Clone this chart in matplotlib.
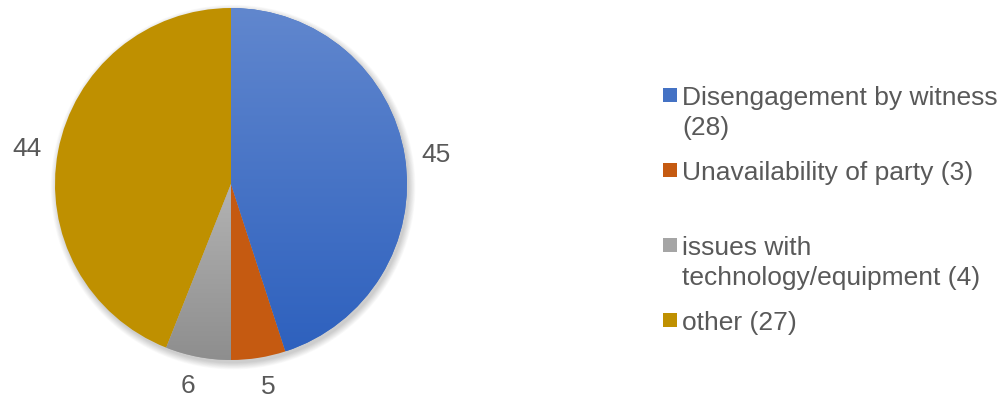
import numpy as np
import matplotlib
matplotlib.use("Agg")
import matplotlib.pyplot as plt
from matplotlib.patches import Rectangle, Circle
from matplotlib.colors import to_rgb

# Share of sessions by reason (percent) and the underlying counts
reasons = ["Disengagement by witness", "Unavailability of party",
           "issues with\ntechnology/equipment", "other"]
percent = [45, 5, 6, 44]
counts = [28, 3, 4, 27]

fill_top = ["#6187CE", "#C55A11", "#B3B3B3", "#BF9000"]
fill_bottom = ["#2E61BE", "#C55A11", "#8E8E8E", "#BF9000"]
legend_colors = ["#4472C4", "#C55A11", "#A5A5A5", "#BF9000"]
text_color = "#595959"

plt.rcParams["font.family"] = ["Liberation Sans", "DejaVu Sans"]

W, H = 1008, 398
fig = plt.figure(figsize=(W / 100, H / 100), dpi=100)

# pie geometry in pixels
cx, cy, rad = 231, 184, 176
ax = fig.add_axes([0, 0, 2 * cx / W, 1])

# soft drop shadow behind the pie
for i in range(10):
    ax.add_patch(Circle((0.012, -0.018), 1.0 + 0.004 * i, facecolor="black",
                        edgecolor="none", alpha=0.018, zorder=0))

wedges, _ = ax.pie(percent, startangle=90, counterclock=False, radius=1,
                   colors=legend_colors,
                   wedgeprops=dict(linewidth=0, zorder=1))

# value labels just outside each wedge, pushed away from the pie
for w, p in zip(wedges, percent):
    mid = np.deg2rad((w.theta1 + w.theta2) / 2)
    x = 1.15 * np.cos(mid) + 0.03 * np.sign(np.cos(mid))
    y = 1.15 * np.sin(mid) - 0.017
    ax.text(x, y, str(p), fontsize=19, color=text_color,
            ha="center", va="center")

# vertical gradient fill per wedge, clipped to the wedge shape
for w, top, bot in zip(wedges, fill_top, fill_bottom):
    if top == bot:
        continue
    ext = w.get_path().get_extents()
    c0, c1 = np.array(to_rgb(top)), np.array(to_rgb(bot))
    t = np.linspace(0, 1, 256)[:, None]
    img = (c0 + (c1 - c0) * t)[:, None, :]
    im = ax.imshow(img, extent=(ext.x0, ext.x1, ext.y0, ext.y1),
                   origin="upper", aspect="auto", interpolation="bilinear",
                   zorder=2)
    im.set_clip_path(w)

ax.set_xlim(-cx / rad, cx / rad)
ax.set_ylim(-(H - cy) / rad, cy / rad)
ax.set_aspect("equal", adjustable="datalim")
ax.axis("off")

# legend: one slot per reason, two text lines per slot
leg_x, leg_y0, slot, line_h = 663, 95, 75, 30
sq = 13.5
for i, (name, n, col) in enumerate(zip(reasons, counts, legend_colors)):
    label = f"{name} ({n})"
    if i == 0:
        label = f"{name}\n({n})"
    yc = leg_y0 + slot * i
    fig.add_artist(Rectangle((leg_x / W, 1 - (yc + sq / 2) / H), sq / W, sq / H,
                             transform=fig.transFigure, facecolor=col,
                             edgecolor="none"))
    for j, line in enumerate(label.split("\n")):
        fig.text((leg_x + 19) / W, 1 - (yc + line_h * j + 10) / H, line,
                 fontsize=19, color=text_color, ha="left", va="baseline")

fig.savefig("out.png", dpi=100, facecolor="white")
